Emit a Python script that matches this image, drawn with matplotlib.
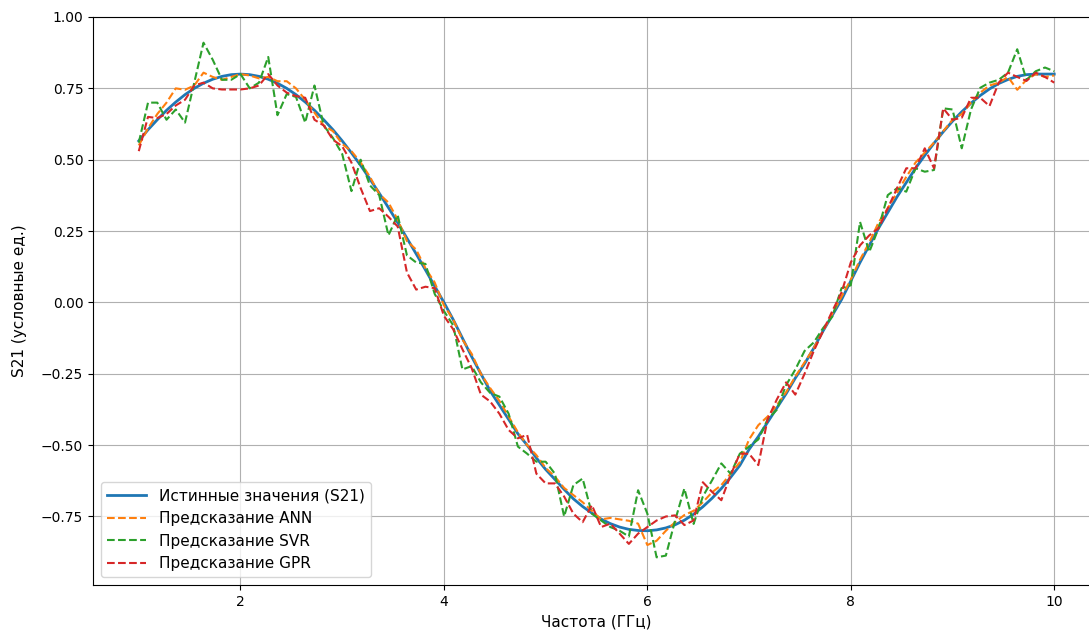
import numpy as np
import matplotlib
matplotlib.use('Agg')
import matplotlib.pyplot as plt

freq = np.linspace(1, 10, 100)

s21_true = [
    0.566, 0.605, 0.640, 0.673, 0.702, 0.728, 0.750, 0.768, 0.782, 0.792,
    0.798, 0.800, 0.798, 0.792, 0.782, 0.768, 0.750, 0.728, 0.702, 0.673,
    0.640, 0.605, 0.566, 0.524, 0.480, 0.432, 0.383, 0.332, 0.280, 0.225,
    0.170, 0.114, 0.057, 0.000, -0.060, -0.125, -0.190, -0.250, -0.310, -0.360,
    -0.410, -0.460, -0.500, -0.545, -0.585, -0.620, -0.655, -0.688, -0.715, -0.738,
    -0.759, -0.775, -0.787, -0.795, -0.799, -0.800, -0.797, -0.790, -0.779, -0.763,
    -0.742, -0.716, -0.686, -0.652, -0.613, -0.571, -0.515, -0.470, -0.420, -0.370,
    -0.320, -0.265, -0.215, -0.160, -0.100, -0.045, 0.010, 0.075, 0.140, 0.200,
    0.260, 0.315, 0.370, 0.420, 0.470, 0.515, 0.558, 0.598, 0.635, 0.668,
    0.698, 0.725, 0.748, 0.767, 0.781, 0.792, 0.798, 0.800, 0.800, 0.800,
]

pred_ann = [
    0.550, 0.610, 0.660, 0.700, 0.750, 0.745, 0.760, 0.805, 0.790, 0.780,
    0.790, 0.800, 0.795, 0.785, 0.790, 0.775, 0.775, 0.750, 0.710, 0.665,
    0.620, 0.600, 0.555, 0.530, 0.490, 0.440, 0.380, 0.350, 0.290, 0.215,
    0.185, 0.120, 0.070, -0.010, -0.060, -0.130, -0.180, -0.250, -0.300, -0.345,
    -0.400, -0.455, -0.500, -0.535, -0.580, -0.610, -0.650, -0.675, -0.700, -0.730,
    -0.760, -0.755, -0.760, -0.765, -0.775, -0.850, -0.835, -0.800, -0.770, -0.745,
    -0.730, -0.700, -0.665, -0.640, -0.600, -0.560, -0.480, -0.430, -0.400, -0.360,
    -0.315, -0.260, -0.210, -0.160, -0.100, -0.040, 0.020, 0.080, 0.150, 0.210,
    0.280, 0.330, 0.385, 0.440, 0.490, 0.525, 0.560, 0.600, 0.640, 0.660,
    0.700, 0.735, 0.760, 0.770, 0.790, 0.745, 0.780, 0.800, 0.790, 0.795,
]

pred_svr = [
    0.560, 0.700, 0.700, 0.640, 0.676, 0.630, 0.770, 0.910, 0.850, 0.780,
    0.780, 0.800, 0.750, 0.770, 0.860, 0.656, 0.730, 0.720, 0.630, 0.760,
    0.620, 0.576, 0.520, 0.390, 0.500, 0.410, 0.376, 0.235, 0.306, 0.165,
    0.140, 0.135, 0.030, -0.030, -0.080, -0.235, -0.223, -0.280, -0.317, -0.330,
    -0.390, -0.505, -0.530, -0.558, -0.558, -0.600, -0.750, -0.640, -0.617, -0.740,
    -0.764, -0.787, -0.800, -0.820, -0.658, -0.740, -0.893, -0.887, -0.764, -0.652,
    -0.776, -0.680, -0.623, -0.564, -0.600, -0.530, -0.505, -0.480, -0.410, -0.376,
    -0.290, -0.235, -0.170, -0.140, -0.090, -0.050, 0.050, 0.060, 0.282, 0.177,
    0.260, 0.376, 0.400, 0.388, 0.470, 0.458, 0.464, 0.680, 0.676, 0.540,
    0.676, 0.752, 0.770, 0.780, 0.805, 0.887, 0.780, 0.810, 0.823, 0.810,
]

pred_gpr = [
    0.530, 0.650, 0.646, 0.660, 0.690, 0.710, 0.760, 0.770, 0.750, 0.746,
    0.746, 0.746, 0.750, 0.760, 0.800, 0.760, 0.735, 0.723, 0.717, 0.640,
    0.620, 0.570, 0.547, 0.490, 0.400, 0.320, 0.330, 0.300, 0.266, 0.105,
    0.045, 0.055, 0.050, -0.047, -0.094, -0.164, -0.230, -0.323, -0.347, -0.390,
    -0.447, -0.476, -0.464, -0.600, -0.634, -0.634, -0.680, -0.740, -0.770, -0.710,
    -0.787, -0.775, -0.810, -0.846, -0.810, -0.787, -0.764, -0.750, -0.746, -0.780,
    -0.764, -0.630, -0.664, -0.693, -0.605, -0.530, -0.530, -0.570, -0.410, -0.340,
    -0.280, -0.323, -0.250, -0.170, -0.100, -0.030, 0.035, 0.140, 0.200, 0.235,
    0.260, 0.330, 0.400, 0.470, 0.470, 0.540, 0.470, 0.680, 0.640, 0.647,
    0.717, 0.717, 0.688, 0.770, 0.805, 0.790, 0.776, 0.805, 0.790, 0.770,
]

fig = plt.figure(figsize=(10.89, 6.33), dpi=100)
# axes run a bit past the right edge, as in the cropped original
ax = fig.add_axes([93 / 1089, 48 / 633, 1007 / 1089, 568 / 633])

ax.plot(freq, s21_true, color='tab:blue', lw=2, label='Истинные значения (S21)')
ax.plot(freq, pred_ann, '--', color='tab:orange', lw=1.5, label='Предсказание ANN')
ax.plot(freq, pred_svr, '--', color='tab:green', lw=1.5, label='Предсказание SVR')
ax.plot(freq, pred_gpr, '--', color='tab:red', lw=1.5, label='Предсказание GPR')

ax.set_xlim(0.55, 10.45)
ax.set_ylim(-0.99, 1.0)
ax.set_xlabel('Частота (ГГц)', fontsize=11)
ax.set_ylabel('S21 (условные ед.)', fontsize=11, labelpad=10)
ax.grid(True)
ax.legend(loc='lower left', fontsize=11, handlelength=2.6)

fig.savefig('out.png', dpi=100)
